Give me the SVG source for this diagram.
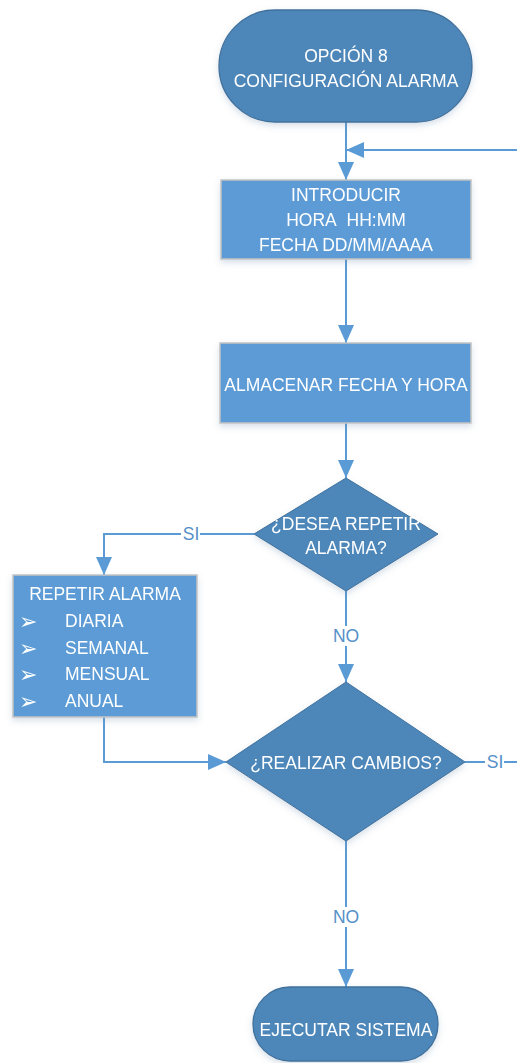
<svg xmlns="http://www.w3.org/2000/svg" width="517" height="1063" viewBox="0 0 517 1063">
  <style>
    .term { fill: #4d87ba; stroke: #41719c; stroke-width: 1.3; }
    .proc { fill: #5b9bd5; stroke: #c4c4c4; stroke-width: 1.5; }
    .dec { fill: #4d87ba; stroke: #41719c; stroke-width: 1; }
    .t { font-family: "Liberation Sans", Arial, sans-serif; font-size: 17.5px; fill: #ffffff; text-anchor: middle; }
    .tl { font-family: "Liberation Sans", Arial, sans-serif; font-size: 17.5px; fill: #ffffff; }
    .bul { font-family: "DejaVu Sans", sans-serif; font-size: 22px; fill: #ffffff; }
    .conn { fill: none; stroke: #5b9bd5; stroke-width: 2; }
    .lbl { font-family: "Liberation Sans", Arial, sans-serif; font-size: 17.5px; fill: #5590c8; text-anchor: middle; }
  </style>
  <defs>
    <marker id="arrow" markerUnits="userSpaceOnUse" markerWidth="18" markerHeight="16" refX="18" refY="8" orient="auto">
      <path d="M0,0 L18,8 L0,16 z" fill="#5b9bd5"/>
    </marker>
    <filter id="shadow" x="-10%" y="-10%" width="120%" height="130%">
      <feDropShadow dx="0" dy="3" stdDeviation="3" flood-color="#5b7fa6" flood-opacity="0.25"/>
    </filter>
  </defs>

  <!-- connectors -->
  <g id="connectors">
    <path class="conn" d="M346,122 V180" marker-end="url(#arrow)"/>
    <path class="conn" d="M517,150 H346" marker-end="url(#arrow)"/>
    <path class="conn" d="M346,259 V343" marker-end="url(#arrow)"/>
    <path class="conn" d="M346,423 V478" marker-end="url(#arrow)"/>
    <path class="conn" d="M254,534 H104 V575" marker-end="url(#arrow)"/>
    <path class="conn" d="M346,591 V682" marker-end="url(#arrow)"/>
    <path class="conn" d="M104,717 V762 H226" marker-end="url(#arrow)"/>
    <path class="conn" d="M465,762 H517"/>
    <path class="conn" d="M346,841 V987" marker-end="url(#arrow)"/>
    <!-- branch labels -->
    <rect x="181" y="524" width="19" height="20" fill="#ffffff"/>
    <text class="lbl" x="191" y="540">SI</text>
    <rect x="333" y="626" width="27" height="20" fill="#ffffff"/>
    <text class="lbl" x="346" y="642">NO</text>
    <rect x="485" y="752" width="19" height="20" fill="#ffffff"/>
    <text class="lbl" x="495" y="768">SI</text>
    <rect x="333" y="907" width="27" height="20" fill="#ffffff"/>
    <text class="lbl" x="346" y="923">NO</text>
  </g>

  <g id="inicio" filter="url(#shadow)">
    <rect class="term" x="219" y="10" width="253" height="112" rx="56" ry="56"/>
    <text class="t" x="346" y="62">OPCIÓN 8</text>
    <text class="t" x="346" y="87">CONFIGURACIÓN ALARMA</text>
  </g>

  <g id="introducir" filter="url(#shadow)">
    <rect class="proc" x="221" y="180" width="250" height="79"/>
    <text class="t" x="346" y="201">INTRODUCIR</text>
    <text class="t" x="346" y="226">HORA&#160; HH:MM</text>
    <text class="t" x="346" y="251">FECHA DD/MM/AAAA</text>
  </g>

  <g id="almacenar" filter="url(#shadow)">
    <rect class="proc" x="220" y="343" width="251" height="80"/>
    <text class="t" x="346" y="391">ALMACENAR FECHA Y HORA</text>
  </g>

  <g id="repetir-pregunta" filter="url(#shadow)">
    <polygon class="dec" points="346,478 438,534 346,591 254,534"/>
    <text class="t" x="346" y="530">¿DESEA REPETIR</text>
    <text class="t" x="346" y="554">ALARMA?</text>
  </g>

  <g id="repetir-alarma" filter="url(#shadow)">
    <rect class="proc" x="13" y="575" width="184" height="142"/>
    <text class="t" x="105" y="600">REPETIR ALARMA</text>
    <text class="bul" x="19" y="629">➢</text>
    <text class="tl" x="65" y="627">DIARIA</text>
    <text class="bul" x="19" y="656">➢</text>
    <text class="tl" x="65" y="654">SEMANAL</text>
    <text class="bul" x="19" y="682">➢</text>
    <text class="tl" x="65" y="680">MENSUAL</text>
    <text class="bul" x="19" y="709">➢</text>
    <text class="tl" x="65" y="707">ANUAL</text>
  </g>

  <g id="cambios" filter="url(#shadow)">
    <polygon class="dec" points="346,682 465,762 346,841 226,762"/>
    <text class="t" x="346" y="769">¿REALIZAR CAMBIOS?</text>
  </g>

  <g id="ejecutar" filter="url(#shadow)">
    <rect class="term" x="253" y="987" width="185" height="74" rx="37" ry="37"/>
    <text class="t" x="346" y="1036">EJECUTAR SISTEMA</text>
  </g>
</svg>
